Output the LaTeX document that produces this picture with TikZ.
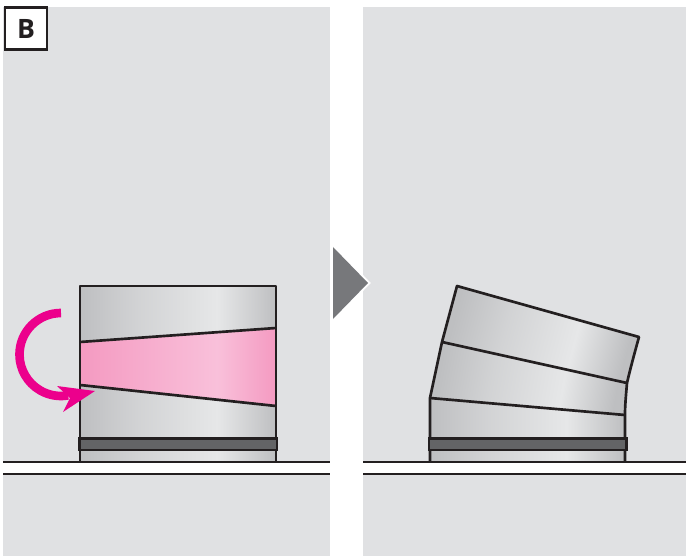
\documentclass[tikz,border=0pt]{standalone}
\usepackage{fontspec}
\setmainfont{Open Sans}
\definecolor{panel}{HTML}{E0E1E3}
\definecolor{ink}{HTML}{231F20}
\definecolor{magenta}{HTML}{EC008C}
\definecolor{steelA}{HTML}{BEBFC1}
\definecolor{steelB}{HTML}{E6E7E8}
\definecolor{pinkA}{HTML}{F49AC1}
\definecolor{pinkB}{HTML}{F9C0DA}
\definecolor{band}{HTML}{636466}
\definecolor{pointer}{HTML}{77787B}
\pgfdeclarehorizontalshading{steel}{100bp}{color(0bp)=(steelA);color(25bp)=(steelA);color(40bp)=(steelA!50!steelB);color(60bp)=(steelB);color(75bp)=(steelA);color(100bp)=(steelA)}
\pgfdeclarehorizontalshading{pinkshade}{100bp}{color(0bp)=(pinkA);color(25bp)=(pinkA);color(60bp)=(pinkB);color(75bp)=(pinkA);color(100bp)=(pinkA)}
\begin{document}
\begin{tikzpicture}[x=0.75pt, y=-0.75pt,
  pane/.style={fill=panel},
  seg/.style={shading=steel},
  edge/.style={draw=ink, line width=2pt, line join=round},
  collar/.style={draw=ink, fill=band, line width=2pt},
  ground/.style={draw=ink, line width=1.7pt},
  badge/.style={draw=ink, fill=white, line width=2.2pt, minimum size=31.5pt, inner sep=0pt,
                font=\fontsize{20}{20}\selectfont\bfseries, text=ink}]

  \useasboundingbox (0,0) rectangle (686,556);
  \fill[pane] (3,7) rectangle (330,556);
  \fill[pane] (363,7) rectangle (686,556);
  \fill[white] (3,462) rectangle (330,474);
  \fill[white] (363,462) rectangle (686,474);

  \node[badge] (tag) at (26,28.5) {B};

  \path[seg] (80,286) rectangle (276,462);
  \path[shading=pinkshade] (80,342) -- (276,328) -- (276,406) -- (80,385) -- cycle;
  \draw[edge] (80,462) -- (80,286) -- (276,286) -- (276,462);
  \draw[edge] (80,342) -- (276,328);
  \draw[edge] (80,385) -- (276,406);
  \draw[collar] (79.5,438.5) rectangle (277,450);

  \draw[magenta, line width=6.5pt] (61,313) arc[start angle=-90, end angle=-280, radius=41.5];
  \fill[magenta] (95,391) -- (57,386) -- (70,398) -- (63,412) -- cycle;

  \path[draw=white, fill=white, line width=3pt, line join=miter] (333,247) -- (368,283) -- (333,319) -- cycle;
  \fill[pointer] (333,247) -- (368,283) -- (333,319) -- cycle;

  \path[seg] (430,398) -- (625,415) .. controls (625,432) and (625,450) .. (625,462) -- (430,462) -- cycle;
  \path[seg, shading angle=-10] (442,342) -- (627,383) .. controls (626,395) and (625,405) .. (625,415) -- (430,398) -- cycle;
  \path[seg, shading angle=-15] (457,286) -- (639,337) .. controls (634,355) and (630,370) .. (627,383) -- (442,342) -- cycle;
  \draw[edge] (430,462) -- (430,398) -- (442,342) -- (457,286) -- (639,337)
    .. controls (634,355) and (630,370) .. (627,383)
    .. controls (626,395) and (625,405) .. (625,415) -- (625,462);
  \draw[edge] (442,342) -- (627,383);
  \draw[edge] (430,398) -- (625,415);
  \draw[collar] (429,438.5) rectangle (626.5,450);

  \draw[ground] (3,462) -- (330,462);
  \draw[ground] (3,474) -- (330,474);
  \draw[ground] (363,462) -- (686,462);
  \draw[ground] (363,474) -- (686,474);

\end{tikzpicture}
\end{document}
